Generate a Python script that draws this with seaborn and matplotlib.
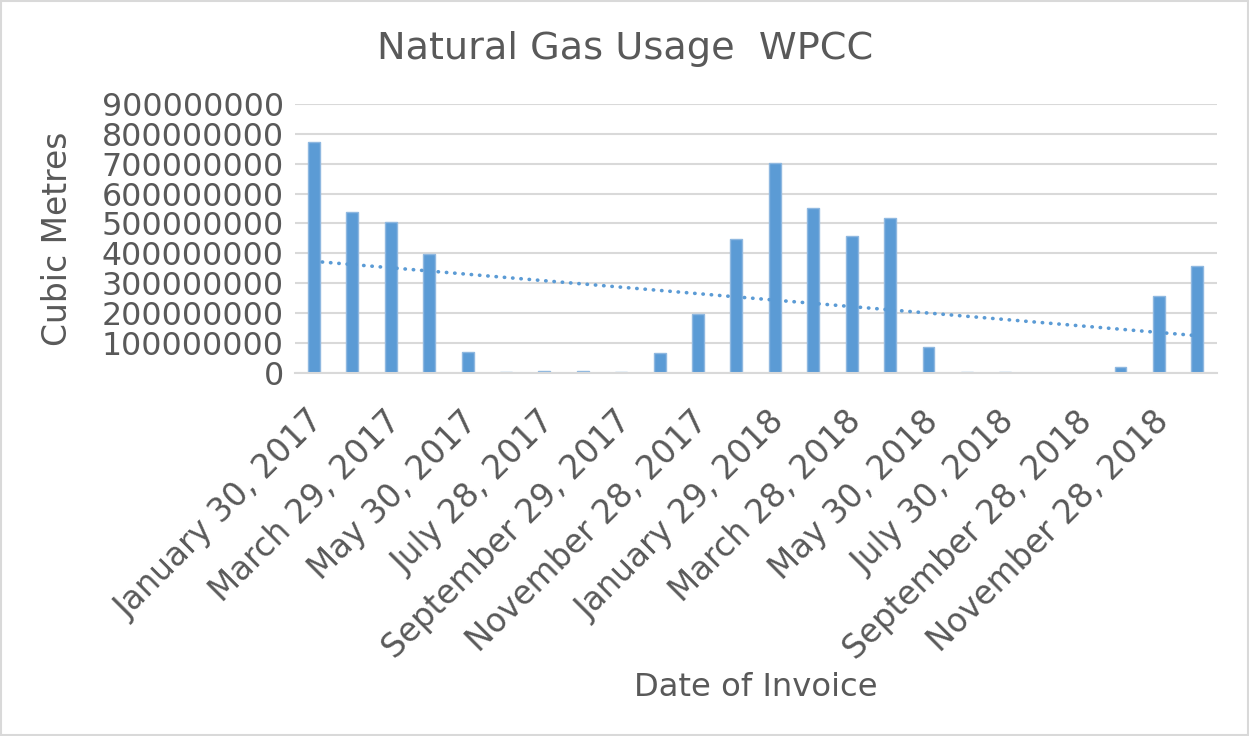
import numpy as np
import pandas as pd
import matplotlib
matplotlib.use("Agg")
import matplotlib.pyplot as plt
import matplotlib.transforms as mtransforms
import seaborn as sns
from matplotlib.ticker import FuncFormatter

# Monthly invoices Jan 2017 - Dec 2018
usage = [772e6, 540e6, 504e6, 397e6, 69e6, 3e6, 6e6, 6e6, 4e6, 66e6, 196e6, 449e6,
         701e6, 552e6, 459e6, 519e6, 85e6, 3e6, 3e6, 0, 0, 19e6, 258e6, 356e6]
# only every other invoice date is labelled on the axis
tick_labels = ["January 30, 2017", "March 29, 2017", "May 30, 2017", "July 28, 2017",
               "September 29, 2017", "November 28, 2017", "January 29, 2018",
               "March 28, 2018", "May 30, 2018", "July 30, 2018",
               "September 28, 2018", "November 28, 2018"]
y_ticks = [0, 100e6, 200e6, 300e6, 400e6, 500e6, 600e6, 700e6, 800e6, 900e6]

df = pd.DataFrame({"idx": np.arange(len(usage)), "usage": usage})

blue = "#5b9bd5"
grey_txt = "#595959"
grid_c = "#d9d9d9"

sns.set_theme(style="white")
plt.rcParams["font.family"] = ["DejaVu Sans"]

fig = plt.figure(figsize=(12.49, 7.36), dpi=100)
ax = fig.add_axes([0.236, 0.4936, 0.738, 0.365])

sns.barplot(data=df, x="idx", y="usage", color=blue, width=0.31, saturation=1, ax=ax,
            edgecolor="#8fb8e0", linewidth=1)
# linear trendline
sns.regplot(data=df, x="idx", y="usage", scatter=False, ci=None, ax=ax,
            line_kws={"color": blue, "linestyle": (0, (0.1, 2.2)), "linewidth": 2.6,
                      "dash_capstyle": "round"})

ax.set_xlim(-0.5, len(usage) - 0.5)
ax.set_ylim(0, 900e6)
ax.set_yticks(y_ticks)
ax.yaxis.set_major_formatter(FuncFormatter(lambda v, p: f"{int(round(v))}"))
ax.set_xticks(np.arange(0, len(usage), 2))
ax.set_xticklabels(tick_labels, rotation=45, ha="right", rotation_mode="anchor",
                   fontsize=23.5)

ax.grid(axis="y", color=grid_c, linewidth=1.5)
ax.set_axisbelow(True)
for s in ["top", "right", "left"]:
    ax.spines[s].set_visible(False)
ax.spines["bottom"].set_color(grid_c)
ax.spines["bottom"].set_linewidth(1.5)
ax.tick_params(axis="both", length=0, colors=grey_txt)
ax.tick_params(axis="y", pad=8, labelsize=22.75)
ax.tick_params(axis="x", pad=10)

# nudge the rotated date labels to sit like the original
shift = mtransforms.ScaledTranslation(-0.07, -0.18, fig.dpi_scale_trans)
for lab in ax.get_xticklabels():
    lab.set_transform(lab.get_transform() + shift)

ax.set_xlabel("Date of Invoice", fontsize=23.2, color=grey_txt)
ax.xaxis.set_label_coords(0.500, -1.115)
ax.set_ylabel("Cubic Metres", fontsize=23.7, color=grey_txt)
ax.yaxis.set_label_coords(-0.239, 0.5)
fig.text(0.5008, 0.934, "Natural Gas Usage  WPCC", ha="center", va="center",
         fontsize=27.5, color=grey_txt)

# chart border
fig.patches.append(plt.Rectangle((0.001, 0.001), 0.998, 0.998, transform=fig.transFigure,
                                 fill=False, edgecolor=grid_c, linewidth=1.5))

fig.savefig("out.png", dpi=100)
